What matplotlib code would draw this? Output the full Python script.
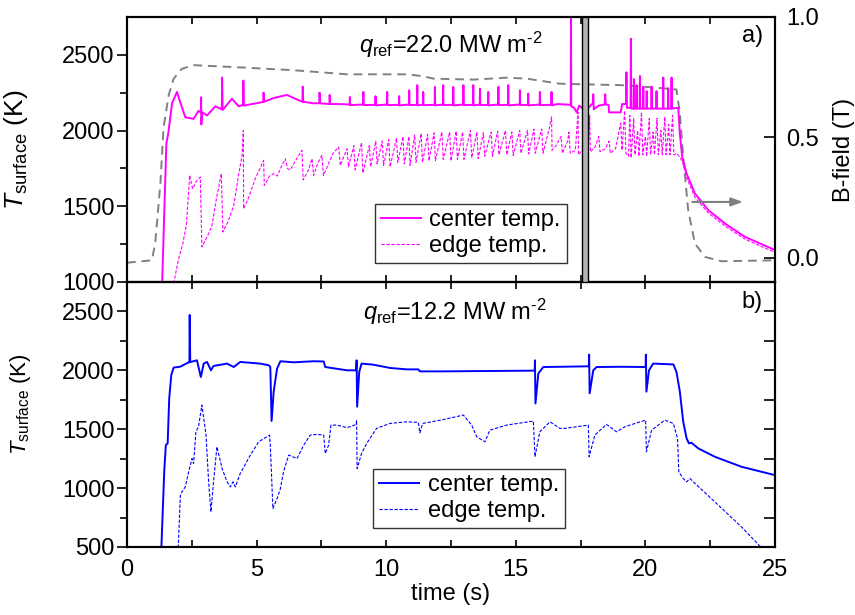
import matplotlib
matplotlib.use("Agg")
import matplotlib.pyplot as plt
import numpy as np

plt.rcParams["font.family"] = ["Liberation Sans", "DejaVu Sans"]
plt.rcParams["mathtext.fontset"] = "custom"
plt.rcParams["mathtext.rm"] = "Liberation Sans"
plt.rcParams["mathtext.it"] = "Liberation Sans:italic"

# ---- panel a) q_ref = 22.0 MW m^-2 : (time s, T K) ----
center_a = [
    (1.35, 950), (1.52, 1914), (1.60, 1990), (1.74, 2180), (1.93, 2255), (2.05, 2190),
    (2.25, 2088), (2.57, 2077), (2.76, 2130), (2.85, 2120), (2.86, 2220), (2.87, 2040),
    (2.90, 2120), (3.09, 2100), (3.41, 2160), (3.66, 2140), (3.67, 2350), (3.69, 2136),
    (4.05, 2210), (4.31, 2160), (4.48, 2170), (4.49, 2330), (4.51, 2165), (5.14, 2185),
    (5.26, 2190), (5.27, 2250), (5.29, 2190), (5.66, 2215), (6.17, 2235), (6.56, 2205),
    (6.77, 2190), (6.78, 2290), (6.80, 2190), (7.20, 2180), (7.42, 2180), (7.43, 2250),
    (7.45, 2180), (7.81, 2175), (7.82, 2235), (7.84, 2175), (8.23, 2175),
    (8.59, 2172), (8.60, 2222), (8.61, 2168), (9.11, 2172), (9.12, 2255), (9.13, 2168),
    (9.58, 2170), (9.59, 2227), (9.60, 2166), (10.03, 2172), (10.04, 2255), (10.05, 2168),
    (10.49, 2170), (10.50, 2227), (10.51, 2166), (10.88, 2172), (10.89, 2266), (10.90, 2168),
    (11.19, 2170), (11.20, 2300), (11.21, 2166), (11.42, 2172), (11.43, 2255), (11.44, 2168),
    (11.87, 2170), (11.88, 2288), (11.89, 2166), (12.19, 2172), (12.20, 2300), (12.21, 2168),
    (12.58, 2170), (12.59, 2288), (12.60, 2166), (12.97, 2172), (12.98, 2300), (12.99, 2168),
    (13.35, 2170), (13.36, 2300), (13.37, 2166), (13.61, 2172), (13.62, 2277), (13.63, 2168),
    (13.93, 2170), (13.94, 2255), (13.95, 2166), (14.32, 2172), (14.33, 2288), (14.34, 2168),
    (14.70, 2170), (14.71, 2300), (14.72, 2166), (15.15, 2172), (15.16, 2266), (15.17, 2168),
    (15.47, 2170), (15.48, 2244), (15.49, 2166), (15.92, 2172), (15.93, 2255), (15.94, 2168),
    (16.37, 2170), (16.38, 2255), (16.39, 2166), (16.60, 2175), (16.90, 2172),
    (17.12, 2170), (17.13, 2800), (17.14, 2160), (17.25, 2150), (17.35, 2120), (17.45, 2165),
    (17.55, 2150), (17.70, 2140), (17.80, 2150), (17.97, 2180), (17.99, 2240), (18.01, 2140),
    (18.20, 2165), (18.43, 2172), (18.45, 2240), (18.47, 2172), (18.58, 2170), (18.60, 2120),
    (19.05, 2120), (19.10, 2175), (19.25, 2175), (19.27, 2385), (19.29, 2150), (19.43, 2150),
    (19.44, 2606), (19.46, 2145), (19.55, 2145), (19.56, 2340), (19.57, 2145), (19.65, 2145),
    (19.66, 2300), (19.67, 2145), (19.78, 2145), (19.79, 2360), (19.80, 2145), (19.91, 2145),
    (19.92, 2290), (19.93, 2145), (20.04, 2145), (20.05, 2260), (20.06, 2145), (20.23, 2145),
    (20.24, 2290), (20.25, 2145), (20.42, 2145), (20.43, 2260), (20.44, 2145), (20.68, 2145),
    (20.69, 2350), (20.70, 2145), (20.87, 2145), (20.88, 2280), (20.89, 2145), (21.00, 2145),
    (21.01, 2350), (21.02, 2145), (21.27, 2150), (21.33, 1980), (21.42, 1826), (21.59, 1716),
    (21.91, 1584), (22.43, 1474), (23.07, 1386), (23.84, 1298), (25.00, 1211),
]

edge_a = [
    (1.80, 990), (1.99, 1150), (2.15, 1250), (2.29, 1374), (2.42, 1704), (2.53, 1616),
    (2.70, 1671), (2.83, 1693), (2.89, 1232), (3.10, 1300), (3.28, 1374), (3.45, 1550),
    (3.64, 1715), (3.70, 1330), (3.90, 1400), (4.12, 1506), (4.30, 1700), (4.44, 1836),
    (4.49, 2001), (4.50, 1484), (4.70, 1560), (4.95, 1682), (5.27, 1803), (5.30, 1638),
    (5.50, 1700), (5.66, 1715), (5.80, 1700), (5.95, 1760), (6.11, 1814), (6.20, 1748),
    (6.30, 1740), (6.50, 1800), (6.75, 1870), (6.80, 1674), (7.00, 1740), (7.14, 1814),
    (7.20, 1704), (7.35, 1780), (7.52, 1836), (7.58, 1704), (7.80, 1790), (7.95, 1850),
    (8.17, 1891), (8.23, 1770), (8.49, 1880),
    (8.55, 1760), (8.75, 1900), (8.80, 1740), (9.05, 1920), (9.10, 1720), (9.35, 1900),
    (9.40, 1760), (9.60, 1930), (9.65, 1780), (9.85, 1930), (9.90, 1770), (10.10, 1940),
    (10.15, 1760), (10.40, 1950), (10.45, 1790), (10.65, 1960), (10.70, 1780), (10.88, 1960),
    (10.92, 1770), (11.10, 1970), (11.15, 1790), (11.35, 1980), (11.40, 1790), (11.60, 1975),
    (11.65, 1800), (11.85, 1985), (11.90, 1800), (12.15, 1990), (12.20, 1810), (12.45, 1990),
    (12.50, 1800), (12.70, 1995), (12.75, 1810), (12.95, 1990), (13.00, 1810), (13.25, 2000),
    (13.30, 1820), (13.50, 1990), (13.55, 1815), (13.75, 1985), (13.80, 1830), (14.05, 1990),
    (14.10, 1830), (14.30, 1995), (14.35, 1840), (14.60, 2000), (14.65, 1840), (14.85, 1990),
    (14.90, 1835), (15.15, 2000), (15.20, 1850), (15.45, 2000), (15.50, 1845), (15.70, 2010),
    (15.75, 1850), (16.00, 2010), (16.05, 1850), (16.30, 2020), (16.38, 2090), (16.40, 1870),
    (16.55, 1900), (16.75, 1960), (16.80, 1850), (17.00, 1930), (17.05, 1990), (17.10, 1850),
    (17.30, 1870), (17.40, 2120), (17.42, 1840), (17.60, 1880), (17.80, 1900), (17.85, 2100),
    (17.88, 1860), (18.05, 1890), (18.20, 1960), (18.25, 1860), (18.45, 1880), (18.60, 1930),
    (18.65, 1850), (18.85, 1880), (19.05, 2050), (19.10, 1870), (19.20, 2130), (19.25, 1850),
    (19.35, 1830), (19.40, 2100), (19.45, 1820), (19.55, 2080), (19.60, 1840), (19.70, 2000),
    (19.75, 1830), (19.85, 2120), (19.90, 1840), (20.00, 1960), (20.05, 1830), (20.15, 2080),
    (20.20, 1840), (20.30, 1990), (20.35, 1840), (20.45, 2080), (20.50, 1840), (20.60, 2000),
    (20.65, 1840), (20.75, 2090), (20.80, 1840), (20.90, 2040), (20.95, 1840), (21.05, 2100),
    (21.10, 1840), (21.20, 1850), (21.30, 1830), (21.42, 1800), (21.59, 1690), (21.91, 1560),
    (22.43, 1455), (23.07, 1370), (23.84, 1283), (25.00, 1195),
]

# B-field (T), right axis of panel a)
bfield = [
    (0.00, -0.02), (0.96, -0.01), (1.09, 0.06), (1.29, 0.31), (1.41, 0.54), (1.61, 0.675),
    (1.80, 0.744), (2.12, 0.785), (2.57, 0.80), (4.50, 0.79), (6.43, 0.779), (8.49, 0.762),
    (10.79, 0.762), (11.43, 0.754), (11.82, 0.744), (13.36, 0.74), (14.65, 0.748),
    (15.42, 0.744), (16.70, 0.723), (17.80, 0.72), (19.08, 0.717), (20.37, 0.707),
    (21.20, 0.699), (21.33, 0.60), (21.46, 0.42), (21.65, 0.20), (21.91, 0.06),
    (22.30, 0.004), (22.94, -0.014), (25.00, -0.01),
]

band_a = (17.54, 17.80)   # shaded time window in panel a)

# ---- panel b) q_ref = 12.2 MW m^-2 ----
center_b = [
    (1.32, 450), (1.44, 1153), (1.50, 1365), (1.57, 1380), (1.63, 1762), (1.71, 1961),
    (1.80, 2023), (2.06, 2031), (2.38, 2068), (2.41, 2068), (2.42, 2470), (2.44, 2070),
    (2.70, 2085), (2.85, 1943), (2.96, 2057), (3.09, 2071), (3.24, 2000), (3.34, 2037),
    (3.86, 2057), (4.12, 2028), (4.37, 2071), (5.14, 2057), (5.47, 2043), (5.53, 2028),
    (5.58, 1570), (5.66, 1819), (5.79, 2014), (5.92, 2077), (6.43, 2068), (7.20, 2077),
    (7.59, 2075), (7.65, 2028), (8.49, 2000), (8.84, 2000), (8.86, 2085), (8.88, 1691),
    (8.96, 1986), (9.05, 2057), (9.50, 2048), (10.15, 2020), (10.79, 2008), (11.24, 2008),
    (11.30, 1991), (12.10, 1991), (15.68, 1997), (15.73, 1997), (15.74, 2085), (15.76, 1719),
    (15.87, 1972), (16.06, 2028), (16.70, 2030), (17.80, 2034), (17.82, 2034), (17.83, 2133),
    (17.85, 1805), (17.99, 2000), (18.12, 2028), (19.08, 2030), (19.98, 2028), (20.01, 2028),
    (20.02, 2133), (20.04, 1819), (20.14, 2000), (20.30, 2057), (21.08, 2050), (21.20, 1986),
    (21.33, 1819), (21.46, 1564), (21.59, 1422), (21.68, 1380), (21.78, 1385), (22.04, 1337),
    (22.68, 1266), (23.71, 1181), (25.00, 1110),
]

edge_b = [
    (1.97, 450), (2.06, 940), (2.12, 968), (2.25, 1010), (2.38, 1138), (2.51, 1251),
    (2.57, 1209), (2.66, 1478), (2.76, 1521), (2.89, 1705), (3.05, 1450), (3.15, 1053),
    (3.24, 798), (3.34, 1053), (3.47, 1351), (3.67, 1166), (3.86, 1053), (3.99, 1010),
    (4.09, 1053), (4.18, 1010), (4.37, 1124), (4.76, 1280), (5.08, 1393), (5.50, 1450),
    (5.53, 1365), (5.63, 826), (5.79, 911), (5.92, 996), (6.04, 1138), (6.24, 1280),
    (6.56, 1251), (6.82, 1365), (7.07, 1450), (7.33, 1456), (7.59, 1450), (7.65, 1294),
    (7.78, 1365), (7.87, 1535), (8.10, 1535), (8.49, 1513), (8.84, 1540), (8.86, 1577),
    (8.88, 1166), (9.05, 1294), (9.25, 1380), (9.63, 1507), (10.15, 1549), (10.79, 1563),
    (11.24, 1558), (11.30, 1469), (11.41, 1549), (12.10, 1577), (12.98, 1620), (13.30, 1535),
    (13.49, 1436), (13.81, 1393), (14.00, 1492), (14.65, 1535), (15.68, 1569), (15.74, 1266),
    (15.93, 1478), (16.32, 1563), (16.70, 1507), (16.90, 1507), (17.80, 1535), (17.83, 1266),
    (18.05, 1450), (18.50, 1541), (18.89, 1478), (19.21, 1521), (20.01, 1577), (20.04, 1308),
    (20.24, 1492), (20.75, 1577), (21.08, 1549), (21.24, 1422), (21.29, 1138), (21.46, 1081),
    (21.59, 1053), (21.72, 1081), (21.85, 1053), (22.68, 883), (23.71, 670), (24.45, 500),
    (24.60, 450),
]

MAGENTA = "#ff00ff"
BLUE = "#0000ff"
GRAY = "#808080"
FS = 17


def xy(pairs):
    arr = np.array(pairs, dtype=float)
    return arr[:, 0], arr[:, 1]


fig = plt.figure(figsize=(8.55, 6.15), dpi=100)
ax_a = fig.add_axes([0.1485, 0.5415, 0.7579, 0.4309])
ax_b = fig.add_axes([0.1485, 0.1106, 0.7579, 0.4309])
ax_bf = ax_a.twinx()
ax_br = ax_b.twinx()

# B-field behind the temperatures
ax_a.set_zorder(ax_bf.get_zorder() + 1)
ax_a.patch.set_visible(False)
t, b = xy(bfield)
ax_bf.plot(t, b, color=GRAY, lw=1.4, dashes=(4.5, 3))
ax_bf.set_ylim(-0.1, 1.0)
ax_bf.set_yticks([0.0, 0.5, 1.0])
ax_bf.set_yticklabels(["0.0", "0.5", "1.0"])
ax_bf.set_ylabel("B-field (T)", fontsize=FS)
ax_bf.yaxis.set_label_coords(1.09, 0.5)

t, T = xy(center_a)
ax_a.plot(t, T, color=MAGENTA, lw=1.4, label="center temp.")
t, T = xy(edge_a)
ax_a.plot(t, T, color=MAGENTA, lw=0.8, dashes=(3, 1.5), label="edge temp.")
ax_a.axvspan(*band_a, facecolor="#b4b4b4", edgecolor="black", lw=1.0, zorder=5)
ax_a.annotate("", xy=(0.955, 0.302), xytext=(0.868, 0.302), xycoords="axes fraction",
              arrowprops=dict(arrowstyle="-|>,head_length=0.7,head_width=0.25",
                              color=GRAY, lw=1.5))
ax_a.set_ylim(1000, 2750)
ax_a.set_yticks([1000, 1500, 2000, 2500])
ax_a.set_yticks(np.arange(1250, 2750, 500), minor=True)
ax_a.set_ylabel(r"$T_{\mathrm{surface}}$ (K)", fontsize=19)
ax_a.yaxis.set_label_coords(-0.15, 0.5)
ax_a.text(0.5, 0.894, r"$q_{\mathrm{ref}}$=22.0 MW m$^{\text{-}2}$", transform=ax_a.transAxes,
          ha="center", va="center", fontsize=FS)
ax_a.text(0.966, 0.93, "a)", transform=ax_a.transAxes, ha="center", va="center", fontsize=FS)
ax_a.legend(loc="lower left", bbox_to_anchor=(0.383, 0.072), borderaxespad=0,
            fontsize=FS, frameon=True, fancybox=False, edgecolor="black",
            handlelength=1.7, handletextpad=0.35, borderpad=0.25, labelspacing=0.15)

t, T = xy(center_b)
ax_b.plot(t, T, color=BLUE, lw=1.4, label="center temp.")
t, T = xy(edge_b)
ax_b.plot(t, T, color=BLUE, lw=0.8, dashes=(3, 1.5), label="edge temp.")
ax_b.set_ylim(500, 2750)
ax_b.set_yticks([500, 1000, 1500, 2000, 2500])
ax_b.set_yticks(np.arange(750, 2750, 500), minor=True)
ax_b.set_ylabel(r"$T_{\mathrm{surface}}$ (K)", fontsize=16)
ax_b.yaxis.set_label_coords(-0.145, 0.54)
ax_b.set_xlabel("time (s)", fontsize=FS, labelpad=1)
ax_b.text(0.506, 0.887, r"$q_{\mathrm{ref}}$=12.2 MW m$^{\text{-}2}$", transform=ax_b.transAxes,
          ha="center", va="center", fontsize=FS)
ax_b.text(0.965, 0.925, "b)", transform=ax_b.transAxes, ha="center", va="center", fontsize=FS)
ax_b.legend(loc="lower left", bbox_to_anchor=(0.38, 0.072), borderaxespad=0,
            fontsize=FS, frameon=True, fancybox=False, edgecolor="black",
            handlelength=1.7, handletextpad=0.35, borderpad=0.25, labelspacing=0.15)

ax_br.set_ylim(ax_b.get_ylim())
ax_br.set_yticks(np.arange(500, 2750, 250))
ax_br.set_yticklabels([])
ax_br.tick_params(axis="y", direction="in", length=8, width=1.2)

for ax in (ax_a, ax_b):
    ax.set_xlim(0, 25)
    ax.set_xticks(np.arange(0, 26, 5))
    ax.set_xticks(np.arange(2.5, 25, 5), minor=True)
    ax.tick_params(axis="x", which="both", direction="in", top=True, bottom=True,
                   length=5, width=1.2, labelsize=FS, pad=9)
    ax.tick_params(axis="y", which="major", direction="out", length=7, width=1.2,
                   labelsize=FS, pad=2, right=False)
    ax.tick_params(axis="y", which="minor", direction="out", length=5, width=1.2, right=False)
ax_a.tick_params(axis="x", which="both", labelbottom=False)
ax_bf.tick_params(axis="y", direction="in", length=8, width=1.2, labelsize=FS, pad=8)

for ax in (ax_a, ax_b, ax_bf, ax_br):
    for sp in ax.spines.values():
        sp.set_linewidth(1.5)

fig.savefig("out.png", dpi=100)
